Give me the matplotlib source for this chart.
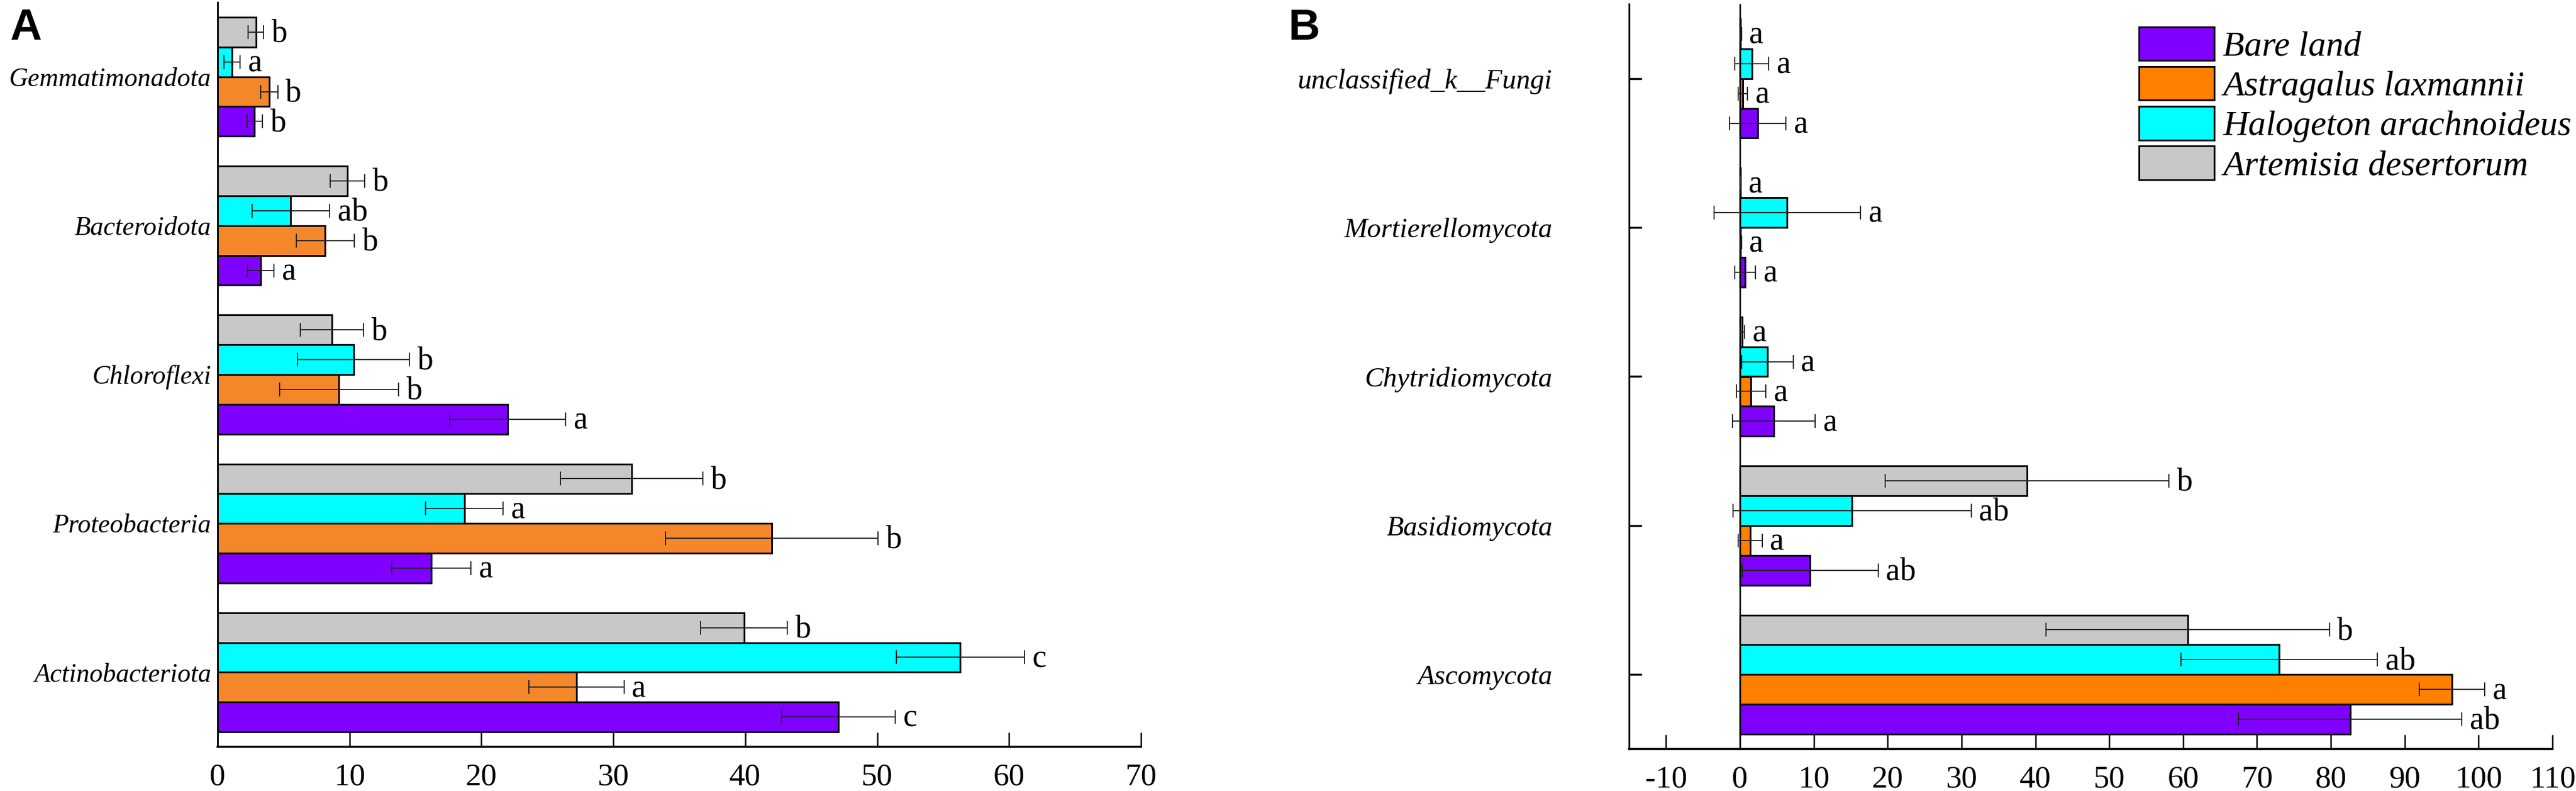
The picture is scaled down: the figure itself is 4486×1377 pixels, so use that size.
import numpy as np
import matplotlib
matplotlib.use("Agg")
import matplotlib.pyplot as plt
from matplotlib.patches import Patch

plt.rcParams['font.family'] = ['Liberation Serif', 'DejaVu Serif']
plt.rcParams['axes.unicode_minus'] = False

groups = ["Bare land", "Astragalus laxmannii", "Halogeton arachnoideus", "Artemisia desertorum"]
colors_a = ["#8000FF", "#F5872B", "#00FFFF", "#C8C8C8"]
colors_b = ["#8000FF", "#FF8000", "#00FFFF", "#C8C8C8"]

# panel A (bacteria), bottom to top
phyla_a = ["Actinobacteriota", "Proteobacteria", "Chloroflexi", "Bacteroidota", "Gemmatimonadota"]
bare_a = [47.05, 16.2, 22.0, 3.25, 2.8]
astr_a = [27.2, 42.0, 9.2, 8.15, 3.9]
halo_a = [56.3, 18.7, 10.3, 5.55, 1.1]
arte_a = [39.9, 31.4, 8.65, 9.85, 2.9]
bare_a_err = [4.3, 3.0, 4.4, 1.0, 0.6]
astr_a_err = [3.6, 8.05, 4.5, 2.2, 0.65]
halo_a_err = [4.85, 2.95, 4.25, 2.95, 0.6]
arte_a_err = [3.3, 5.4, 2.4, 1.3, 0.6]
bare_a_sig = ["c", "a", "a", "a", "b"]
astr_a_sig = ["a", "b", "b", "b", "b"]
halo_a_sig = ["c", "a", "b", "ab", "a"]
arte_a_sig = ["b", "b", "b", "b", "b"]

# panel B (fungi), bottom to top
phyla_b = ["Ascomycota", "Basidiomycota", "Chytridiomycota", "Mortierellomycota", "unclassified_k__Fungi"]
bare_b = [82.6, 9.5, 4.6, 0.7, 2.4]
astr_b = [96.4, 1.4, 1.5, 0.1, 0.4]
halo_b = [73.0, 15.2, 3.7, 6.4, 1.6]
arte_b = [60.6, 38.9, 0.3, 0.05, 0.1]
bare_b_err = [15.1, 9.2, 5.6, 1.4, 3.8]
astr_b_err = [4.4, 1.6, 2.0, 0.1, 0.6]
halo_b_err = [13.3, 16.1, 3.5, 9.9, 2.3]
arte_b_err = [19.2, 19.2, 0.3, 0.05, 0.1]
bare_b_sig = ["ab", "ab", "a", "a", "a"]
astr_b_sig = ["a", "a", "a", "a", "a"]
halo_b_sig = ["ab", "ab", "a", "a", "a"]
arte_b_sig = ["b", "b", "a", "a", "a"]

H = 0.2
OFFSETS = [-0.3, -0.1, 0.1, 0.3]


def draw_panel(ax, phyla, means, errs, sigs, colors, label_size):
    y = np.arange(len(phyla))
    for off, m, e, s, c in zip(OFFSETS, means, errs, sigs, colors):
        yy = y + off
        ax.barh(yy, m, height=H, color=c, edgecolor="black", linewidth=2.2, zorder=2)
        ax.errorbar(m, yy, xerr=e, fmt="none", ecolor="#222222", elinewidth=1.4,
                    capsize=8.5, capthick=1.4, zorder=3)
        for xv, ev, yv, lab in zip(m, e, yy, s):
            ax.annotate(lab, xy=(xv + ev, yv), xytext=(10, -2), textcoords="offset points",
                        ha="left", va="center", fontsize=40)
    ax.set_yticks(y)
    ax.set_yticklabels(phyla, fontsize=label_size, style="italic")
    ax.set_ylim(-0.5, 4.5)
    for side in ["top", "right"]:
        ax.spines[side].set_visible(False)
    ax.spines["left"].set_linewidth(2.2)
    ax.spines["bottom"].set_linewidth(2.6)
    ax.tick_params(axis="x", direction="in", length=18, width=1.8, labelsize=39.5, pad=20)


fig = plt.figure(figsize=(44.86, 13.77), dpi=100)
W, Hf = 4486, 1377

ax1 = fig.add_axes([379 / W, (Hf - 1300) / Hf, (1987 - 379) / W, (1300 - 4) / Hf])
draw_panel(ax1, phyla_a,
           [bare_a, astr_a, halo_a, arte_a],
           [bare_a_err, astr_a_err, halo_a_err, arte_a_err],
           [bare_a_sig, astr_a_sig, halo_a_sig, arte_a_sig], colors_a, 33)
ax1.set_xlim(0, 70)
ax1.set_xticks(np.arange(0, 71, 10))
ax1.tick_params(axis="y", length=0, pad=8)

ax2 = fig.add_axes([2837 / W, (Hf - 1304) / Hf, (4445 - 2837) / W, (1304 - 7) / Hf])
draw_panel(ax2, phyla_b,
           [bare_b, astr_b, halo_b, arte_b],
           [bare_b_err, astr_b_err, halo_b_err, arte_b_err],
           [bare_b_sig, astr_b_sig, halo_b_sig, arte_b_sig], colors_b, 35)
ax2.set_xlim(-15, 110)
ax2.set_xticks(np.arange(-10, 111, 10))
ax2.axvline(0, color="black", linewidth=1.8, zorder=1)
ax2.tick_params(axis="y", direction="in", length=16, width=2.5, pad=96)

handles = [Patch(facecolor=c, edgecolor="black", linewidth=2.2) for c in colors_b]
fig.legend(handles, groups, loc="upper left", bbox_to_anchor=(3694 / W, 1 - 16 / Hf),
           bbox_transform=fig.transFigure, frameon=False, borderpad=0,
           handlelength=2.15, handleheight=1.1, labelspacing=0.1, handletextpad=0.25,
           prop={"family": "Liberation Serif", "style": "italic", "size": 44})

fig.text(17 / W, 1 - 14 / Hf, "A", fontsize=55, fontweight="bold", family="Liberation Sans",
         ha="left", va="top")
fig.text(2244 / W, 1 - 14 / Hf, "B", fontsize=55, fontweight="bold", family="Liberation Sans",
         ha="left", va="top")

fig.savefig("out.png", dpi=100)
